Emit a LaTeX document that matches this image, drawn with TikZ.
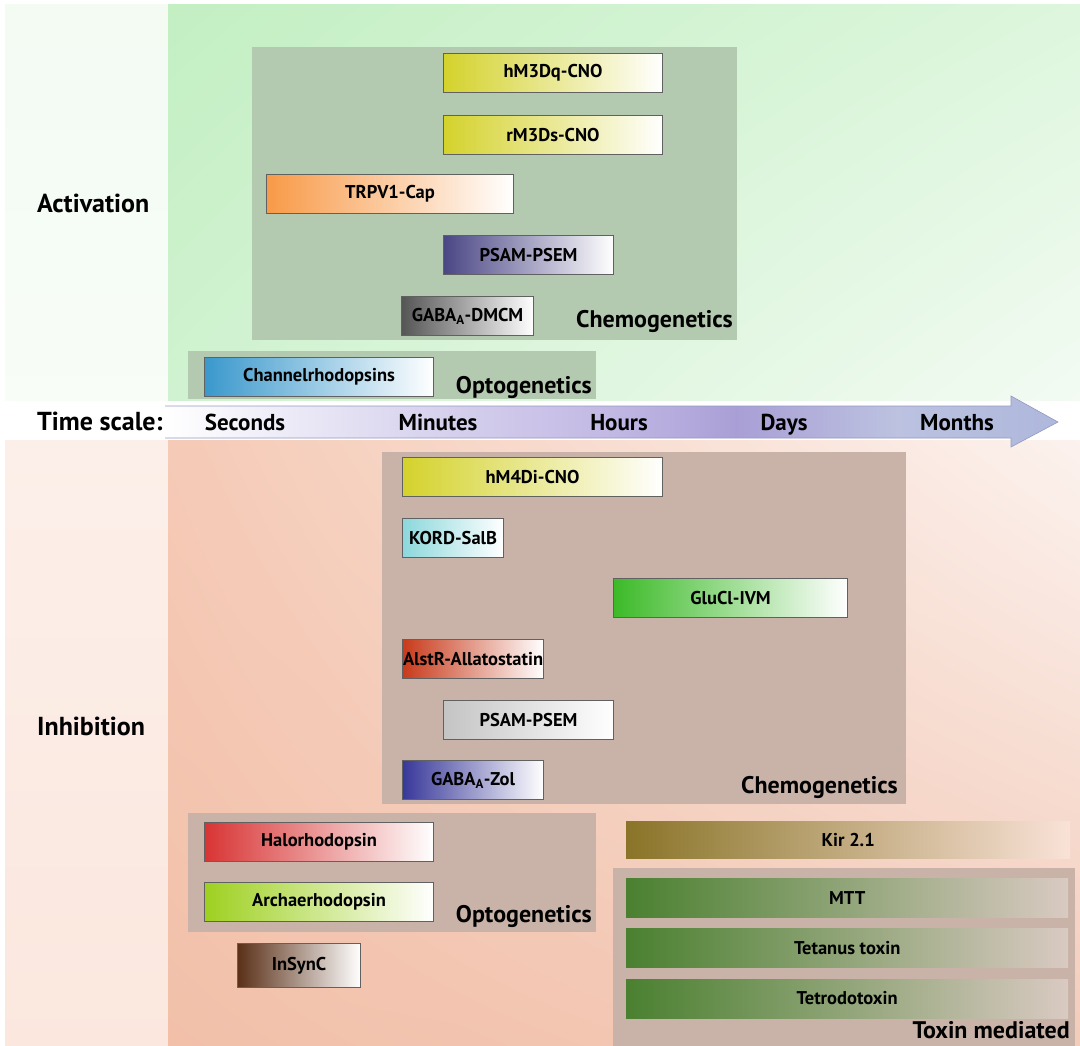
\documentclass[tikz,border=0pt]{standalone}
\usepackage{fontspec}
\setmainfont{PT Sans}
\usetikzlibrary{positioning,shadings}
\definecolor{actbgA}{HTML}{C3EFC3}
\definecolor{actbgB}{HTML}{DDF6DD}
\definecolor{actbgC}{HTML}{D0F2D0}
\definecolor{actbgD}{HTML}{F3FBF3}
\definecolor{inhbgA}{HTML}{F5CAB6}
\definecolor{inhbgB}{HTML}{FCF2EE}
\definecolor{inhbgC}{HTML}{F2C0A9}
\definecolor{inhbgD}{HTML}{F3CCBB}
\definecolor{actpanel}{HTML}{B4CAB0}
\definecolor{inhpanel}{HTML}{C9B3A8}
\definecolor{arrowA}{HTML}{DCD8F0}
\definecolor{arrowB}{HTML}{C2B8E4}
\definecolor{arrowC}{HTML}{A99FD6}
\definecolor{arrowD}{HTML}{BCC2E0}
\definecolor{arrowE}{HTML}{AEB8DC}
\definecolor{arrowline}{HTML}{9499C0}
\definecolor{cnoYellow}{HTML}{D4D22C}
\definecolor{trpvOrange}{HTML}{F89A48}
\definecolor{psamPurple}{HTML}{4A4685}
\definecolor{dmcmGray}{HTML}{555555}
\definecolor{chrBlue}{HTML}{3A98CC}
\definecolor{kordCyan}{HTML}{8CD8DC}
\definecolor{gluclGreen}{HTML}{3CBA28}
\definecolor{alstrRed}{HTML}{C83A1A}
\definecolor{psamLight}{HTML}{C4C4C4}
\definecolor{zolBlue}{HTML}{38389A}
\definecolor{haloRed}{HTML}{D83434}
\definecolor{archLime}{HTML}{9ED020}
\definecolor{insyncBrown}{HTML}{5A3018}
\definecolor{kirOlive}{HTML}{8A7428}
\definecolor{toxinGreen}{HTML}{4A8030}
\pgfdeclarehorizontalshading{timeshade}{100bp}{color(0bp)=(white); color(25bp)=(white);
  color(38bp)=(arrowA); color(50bp)=(arrowB); color(57bp)=(arrowC); color(66bp)=(arrowD);
  color(75bp)=(arrowE); color(100bp)=(arrowE)}
\tikzset{
  panel/.style={fill=#1, inner sep=0pt, anchor=north west},
  drug/.style={draw=black!62, line width=1.1pt, left color=#1, right color=white,
    inner sep=0pt, anchor=north west, minimum height=39pt,
    font=\fontsize{18.5}{21}\selectfont\bfseries},
  toxbar/.style={left color=#1, right color=inhpanel!70!white, inner sep=0pt,
    anchor=north west, minimum height=39pt, minimum width=442pt,
    font=\fontsize{18.5}{21}\selectfont\bfseries},
  grouplabel/.style={anchor=base east, inner sep=0pt, font=\fontsize{24}{28}\selectfont\bfseries},
  sidelabel/.style={anchor=base west, inner sep=0pt, font=\fontsize{26}{30}\selectfont\bfseries},
  timelabel/.style={anchor=base, inner sep=0pt, font=\fontsize{23}{27}\selectfont\bfseries}
}
\begin{document}
\begin{tikzpicture}[x=1pt,y=-1pt]
  \useasboundingbox (0,0) rectangle (1080,1046);
  \fill[white] (0,0) rectangle (1080,1046);
  % backgrounds
  \shade[upper left=actbgD, upper right=actbgD, lower left=actbgD!60!white, lower right=actbgD!60!white] (5,5) rectangle (168,400);
  \shade[upper left=actbgA, upper right=actbgB, lower left=actbgC, lower right=actbgD] (168,5) rectangle (1080,400);
  \shade[upper left=inhbgA!30!white, upper right=inhbgA!30!white, lower left=inhbgA!45!white, lower right=inhbgA!45!white] (5,440) rectangle (168,1046);
  \shade[upper left=inhbgA, upper right=inhbgB, lower left=inhbgC, lower right=inhbgD] (168,440) rectangle (1080,1046);

  % activation
  \node[panel=actpanel, minimum width=485pt, minimum height=293pt] (chemoAct) at (252,47) {};
  \node[panel=actpanel, minimum width=408pt, minimum height=48pt] (optoAct) at (188,351) {};
  \node[drug=cnoYellow, minimum width=219pt] (hmdq) at (443,53) {hM3Dq-CNO};
  \node[drug=cnoYellow, minimum width=219pt, below=22pt of hmdq] (rmds) {rM3Ds-CNO};
  \node[drug=trpvOrange, minimum width=247pt] (trpv) at (266,174) {TRPV1-Cap};
  \node[drug=psamPurple, minimum width=170pt] (psamA) at (443,235) {PSAM-PSEM};
  \node[drug=dmcmGray, minimum width=132pt] (gabaD) at (401,296) {GABA\textsubscript{A}-DMCM};
  \node[grouplabel] (chemoActL) at (733,327) {Chemogenetics};
  \node[drug=chrBlue, minimum width=229pt] (chr) at (204,357) {Channelrhodopsins};
  \node[grouplabel] (optoActL) at (592,393) {Optogenetics};

  % time axis
  \shade[draw=arrowline, line width=0.6pt, shading=timeshade]
    (165,406) -- (1011,406) -- (1011,396) -- (1058,422) -- (1011,447) -- (1011,438) -- (165,438);
  \node[sidelabel] (tscale) at (37,430) {Time scale:};
  \node[timelabel] (sec) at (245,430) {Seconds};
  \node[timelabel] (min) at (438,430) {Minutes};
  \node[timelabel] (hrs) at (619,430) {Hours};
  \node[timelabel] (days) at (784,430) {Days};
  \node[timelabel] (mon) at (957,430) {Months};

  \node[sidelabel] (act) at (37,213) {Activation};
  \node[sidelabel] (inh) at (37,735) {Inhibition};

  % inhibition
  \node[panel=inhpanel, minimum width=524pt, minimum height=352pt] (chemoInh) at (382,452) {};
  \node[panel=inhpanel, minimum width=408pt, minimum height=119pt] (optoInh) at (188,813) {};
  \node[panel=inhpanel, minimum width=462pt, minimum height=178pt] (toxinP) at (613,868) {};
  \node[drug=cnoYellow, minimum width=260pt] (hmdi) at (402,457) {hM4Di-CNO};
  \node[drug=kordCyan, minimum width=101pt] (kord) at (402,518) {KORD-SalB};
  \node[drug=gluclGreen, minimum width=234pt] (glucl) at (613,578) {GluCl-IVM};
  \node[drug=alstrRed, minimum width=141pt] (alstr) at (402,639) {AlstR-Allatostatin};
  \node[drug=psamLight, minimum width=170pt] (psamI) at (443,700) {PSAM-PSEM};
  \node[drug=zolBlue, minimum width=141pt] (gabaZ) at (402,760) {GABA\textsubscript{A}-Zol};
  \node[grouplabel] (chemoInhL) at (898,793) {Chemogenetics};
  \node[drug=haloRed, minimum width=229pt] (halo) at (204,822) {Halorhodopsin};
  \node[drug=archLime, minimum width=229pt] (arch) at (204,882) {Archaerhodopsin};
  \node[grouplabel] (optoInhL) at (592,922) {Optogenetics};
  \node[drug=insyncBrown, minimum width=123pt, minimum height=44pt] (insync) at (237,943) {InSynC};
  \node[toxbar=kirOlive, right color=inhbgB!60!inhbgA, minimum height=37pt, minimum width=444pt] (kir) at (626,821) {Kir 2.1};
  \node[toxbar=toxinGreen] (mtt) at (626,878) {MTT};
  \node[toxbar=toxinGreen, below=11pt of mtt] (tetanus) {Tetanus toxin};
  \node[toxbar=toxinGreen, below=11pt of tetanus] (ttx) {Tetrodotoxin};
  \node[grouplabel] (toxinL) at (1070,1038) {Toxin mediated};
\end{tikzpicture}
\end{document}
